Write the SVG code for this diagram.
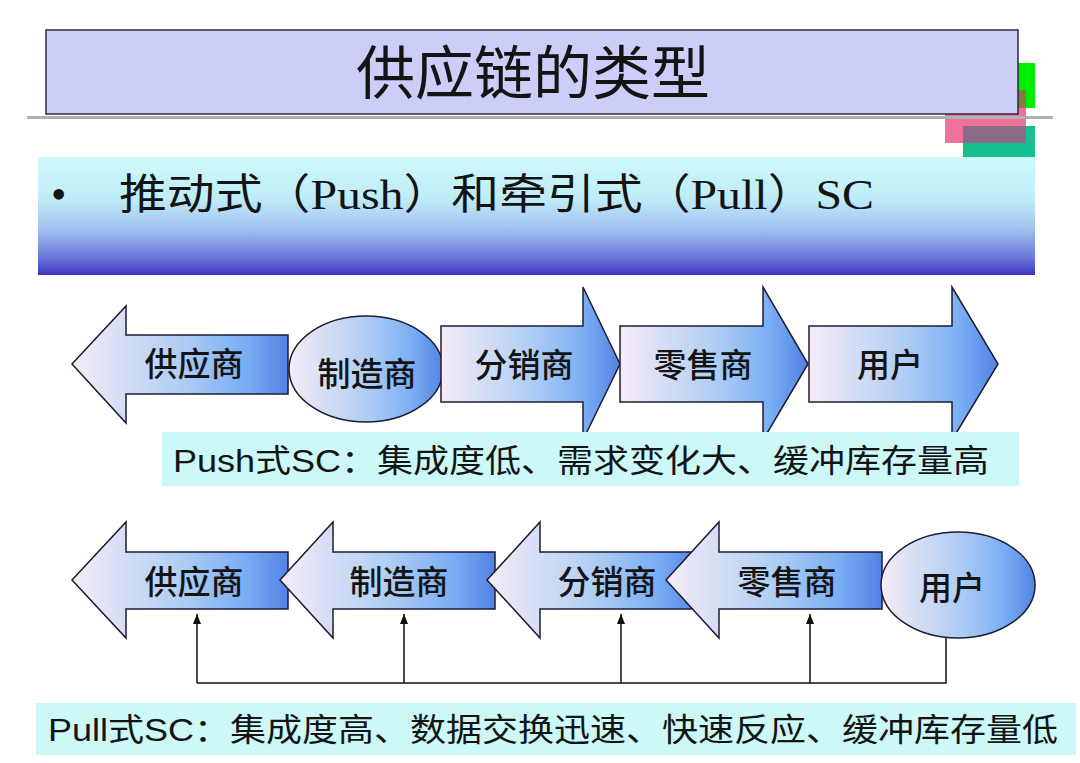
<svg xmlns="http://www.w3.org/2000/svg" width="1080" height="763" viewBox="0 0 1080 763">
<defs>
<linearGradient id="gArrow" x1="0" y1="0" x2="1" y2="0">
<stop offset="0" stop-color="#f6ecf6"/>
<stop offset="0.5" stop-color="#b0cef4"/>
<stop offset="0.8" stop-color="#7aaef4"/>
<stop offset="1" stop-color="#5282e2"/>
</linearGradient>
<linearGradient id="gBanner" x1="0" y1="0" x2="0" y2="1">
<stop offset="0" stop-color="#ccfafa"/>
<stop offset="0.35" stop-color="#c0ecf8"/>
<stop offset="0.6" stop-color="#a4c4f0"/>
<stop offset="0.85" stop-color="#6c78dc"/>
<stop offset="1" stop-color="#3c34c0"/>
</linearGradient>
<marker id="ah" markerUnits="userSpaceOnUse" markerWidth="10" markerHeight="8" refX="10" refY="4" orient="auto">
<path d="M0,0 L10,4 L0,8 Z" fill="#111"/>
</marker>
<style>
.shape{fill:url(#gArrow);stroke:#1c1c34;stroke-width:1.5;stroke-linejoin:miter}
.lbl{font-family:"Noto Sans CJK SC","Liberation Sans",sans-serif;font-size:33px;font-weight:500;fill:#141414;text-anchor:middle}
.cap{font-family:"Liberation Sans","Noto Sans CJK SC",sans-serif;font-size:32px;fill:#141414}
.serif{font-family:"Liberation Serif","Noto Sans CJK SC",serif;fill:#141414}
.conn{stroke:#111;stroke-width:1.5;fill:none}
</style>
</defs>
<rect width="1080" height="763" fill="#ffffff"/>

<g id="decor">
<rect x="1018" y="63" width="17" height="45" fill="#00ee00"/>
<rect x="945" y="90" width="81" height="53" fill="#f0709c"/>
<rect x="1018" y="90" width="8" height="18" fill="#8a7a3a"/>
<rect x="963" y="126" width="72" height="32" fill="#16c08e"/>
<rect x="963" y="126" width="63" height="17" fill="#8a6c86"/>
</g>

<g id="title">
<rect x="27" y="116" width="1026" height="3" fill="#b0b0b0"/>
<rect x="46" y="30" width="972" height="84" fill="#cccef8" stroke="#2a2a40" stroke-width="1.5"/>
<text class="serif" x="533" y="94" font-size="58" text-anchor="middle" textLength="354" lengthAdjust="spacingAndGlyphs">供应链的类型</text>
</g>

<g id="banner">
<rect x="38" y="157" width="997" height="118" fill="url(#gBanner)"/>
<text class="serif" x="51" y="209" font-size="44">•</text>
<text class="serif" x="119" y="209" font-size="42" textLength="755" lengthAdjust="spacingAndGlyphs">推动式（Push）和牵引式（Pull）SC</text>
</g>

<g id="push-row">
<g id="push-supplier">
<path class="shape" d="M72,364 L126,306 L126,335 L288,335 L288,394 L126,394 L126,423 Z"/>
<text class="lbl" x="194" y="376">供应商</text>
</g>
<g id="push-manufacturer">
<ellipse class="shape" cx="366" cy="369" rx="77" ry="53"/>
<text class="lbl" x="367" y="386">制造商</text>
</g>
<g id="push-distributor">
<path class="shape" d="M441,326 L583,326 L583,287 L620,364 L583,440 L583,402 L441,402 Z"/>
<text class="lbl" x="524" y="377">分销商</text>
</g>
<g id="push-retailer">
<path class="shape" d="M620,326 L763,326 L763,287 L808,364 L763,440 L763,402 L620,402 Z"/>
<text class="lbl" x="703" y="377">零售商</text>
</g>
<g id="push-user">
<path class="shape" d="M809,326 L952,326 L952,287 L998,364 L952,440 L952,402 L809,402 Z"/>
<text class="lbl" x="890" y="377">用户</text>
</g>
</g>

<g id="push-caption">
<rect x="162" y="432" width="857" height="54" fill="#ccf8f8"/>
<text class="cap" x="173" y="472" textLength="816" lengthAdjust="spacingAndGlyphs">Push式SC：集成度低、需求变化大、缓冲库存量高</text>
</g>

<g id="pull-row">
<g id="pull-supplier">
<path class="shape" d="M72,580 L126,522 L126,552 L288,552 L288,609 L126,609 L126,638 Z"/>
<text class="lbl" x="194" y="594">供应商</text>
</g>
<g id="pull-manufacturer">
<path class="shape" d="M280,580 L333,522 L333,552 L495,552 L495,609 L333,609 L333,638 Z"/>
<text class="lbl" x="399" y="594">制造商</text>
</g>
<g id="pull-distributor">
<path class="shape" d="M487,580 L540,522 L540,552 L700,552 L700,609 L540,609 L540,638 Z"/>
<text class="lbl" x="607" y="594">分销商</text>
</g>
<g id="pull-retailer">
<path class="shape" d="M666,580 L719,522 L719,552 L882,552 L882,609 L719,609 L719,638 Z"/>
<text class="lbl" x="787" y="594">零售商</text>
</g>
<g id="pull-user">
<ellipse class="shape" cx="958" cy="585" rx="77" ry="53"/>
<text class="lbl" x="952" y="600">用户</text>
</g>
</g>

<g id="connectors">
<path class="conn" d="M946,638 L946,683 L197,683"/>
<path class="conn" d="M197,683 L197,614" marker-end="url(#ah)"/>
<path class="conn" d="M404,683 L404,614" marker-end="url(#ah)"/>
<path class="conn" d="M621,683 L621,614" marker-end="url(#ah)"/>
<path class="conn" d="M810,683 L810,614" marker-end="url(#ah)"/>
</g>

<g id="pull-caption">
<rect x="36" y="703" width="1040" height="52" fill="#ccf8f8"/>
<text class="cap" x="48" y="741" textLength="1010" lengthAdjust="spacingAndGlyphs">Pull式SC：集成度高、数据交换迅速、快速反应、缓冲库存量低</text>
</g>
</svg>
